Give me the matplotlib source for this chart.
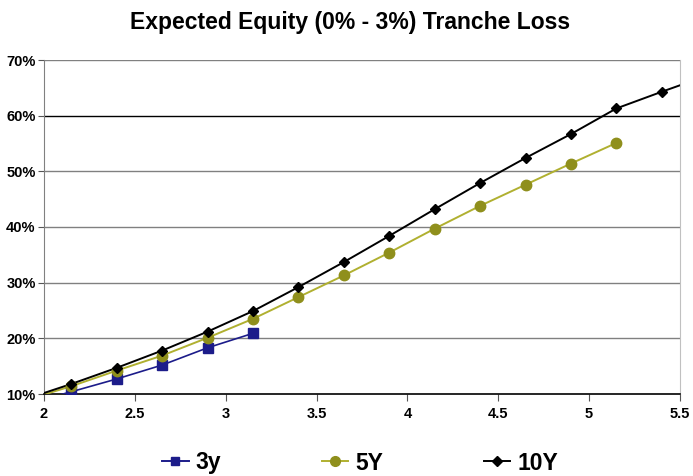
import matplotlib
matplotlib.use("Agg")
import matplotlib.pyplot as plt
from matplotlib.ticker import FuncFormatter

plt.rcParams['font.family'] = ['Liberation Sans', 'DejaVu Sans']

# Marker data
x_3y = [2.15, 2.4, 2.65, 2.9, 3.15]
y_3y = [10.4, 12.7, 15.2, 18.3, 20.9]
x_5y = [2.15, 2.4, 2.65, 2.9, 3.15, 3.4, 3.65, 3.9, 4.15, 4.4, 4.65, 4.9, 5.15]
y_5y = [11.4, 14.2, 16.9, 20.1, 23.5, 27.4, 31.3, 35.4, 39.7, 43.8, 47.6, 51.4, 55.1]
x_10y = [2.15, 2.4, 2.65, 2.9, 3.15, 3.4, 3.65, 3.9, 4.15, 4.4, 4.65, 4.9, 5.15, 5.4]
y_10y = [11.8, 14.7, 17.8, 21.2, 24.9, 29.2, 33.7, 38.4, 43.2, 47.9, 52.4, 56.7, 61.3, 64.3]
# line ends running off the plot edges
lead_x = 1.9
lead_3y, lead_5y, lead_10y = 8.2, 8.9, 9.1
tail_x_10y, tail_10y = 5.65, 67.2

xticks = [2, 2.5, 3, 3.5, 4, 4.5, 5, 5.5]
xtick_labels = ['2', '2.5', '3', '3.5', '4', '4.5', '5', '5.5']
yticks = [10, 20, 30, 40, 50, 60, 70]

c3, c5, c10 = '#1c1c8a', '#8f8f1c', '#000000'
l5 = '#b0b030'

fig = plt.figure(figsize=(6.93, 4.76), dpi=100)
ax = fig.add_axes([44/693, 1 - 394/476, (680-44)/693, (394-60)/476])

ax.plot([lead_x] + x_3y, [lead_3y] + y_3y, color=c3, lw=1.2, zorder=3)
ax.plot(x_3y, y_3y, ls='none', marker='s', ms=6.5, color=c3, zorder=4)
ax.plot([lead_x] + x_5y, [lead_5y] + y_5y, color=l5, lw=1.4, zorder=3)
ax.plot(x_5y, y_5y, ls='none', marker='o', ms=7.5, color=c5, zorder=4)
ax.plot([lead_x] + x_10y + [tail_x_10y], [lead_10y] + y_10y + [tail_10y], color=c10, lw=1.4, zorder=3)
ax.plot(x_10y, y_10y, ls='none', marker='D', ms=5.5, color=c10, zorder=4)

# legend proxies
h3, = ax.plot([], [], color=c3, marker='s', ms=6, lw=1.4)
h5, = ax.plot([], [], color=l5, marker='o', ms=7, mfc=c5, mec=c5, lw=1.4)
h10, = ax.plot([], [], color=c10, marker='D', ms=5, lw=1.4)

ax.set_xlim(2, 5.5)
ax.set_ylim(10, 70)
ax.set_xticks(xticks)
ax.set_xticklabels(xtick_labels)
ax.set_yticks(yticks)
ax.yaxis.set_major_formatter(FuncFormatter(lambda v, p: f'{v:.0f}%'))
for t in ax.get_xticklabels() + ax.get_yticklabels():
    t.set_fontweight('bold')
    t.set_fontsize(10.5)
ax.tick_params(axis='x', length=5, color='#555555', pad=4)
ax.tick_params(axis='y', length=4, color='#555555', pad=2)

for v in yticks[1:]:
    ax.axhline(v, color='#000000' if v == 60 else '#808080', lw=1.0, zorder=1)
ax.spines['left'].set_color('#808080')
ax.spines['right'].set_color('#c0c0c0')
ax.spines['top'].set_visible(False)
ax.spines['bottom'].set_color('#000000')
ax.spines['bottom'].set_linewidth(1.2)

fig.text(350/693, 1 - 23/476, 'Expected Equity (0% - 3%) Tranche Loss', ha='center', va='center',
         fontsize=16.5, fontweight='bold')

fig.legend([h3, h5, h10], ['3y', '5Y', '10Y'], loc='center', bbox_to_anchor=(360/693, 1 - 463/476),
           ncol=3, frameon=False, prop={'weight': 'bold', 'size': 16.5}, columnspacing=4.4,
           handlelength=1.15, handletextpad=0.3)

fig.savefig('out.png', dpi=100)
